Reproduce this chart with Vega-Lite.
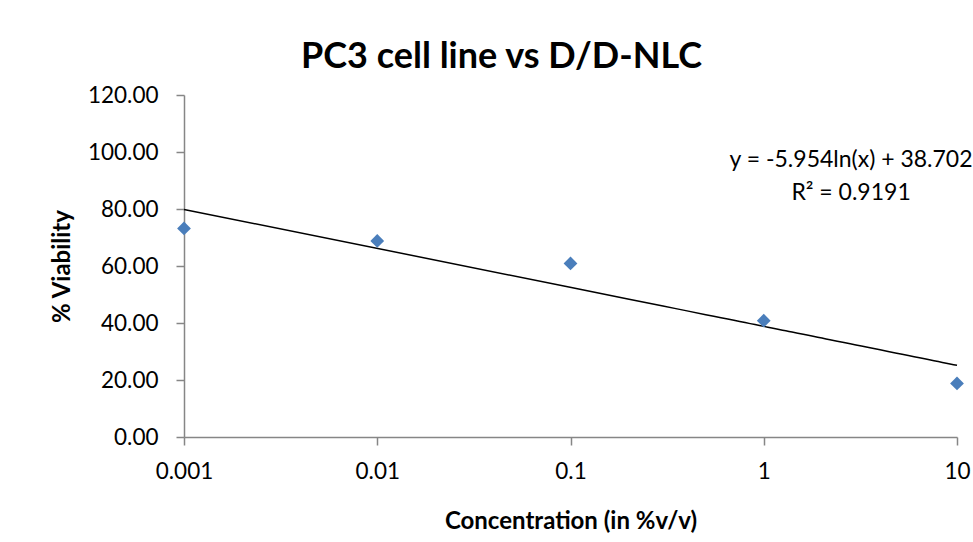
{
  "$schema": "https://vega.github.io/schema/vega-lite/v6.json",
  "width": 773,
  "height": 342,
  "autosize": {"type": "none"},
  "padding": {"left": 184, "top": 95, "right": 16, "bottom": 105},
  "background": "white",
  "title": {
    "text": "PC3 cell line vs D/D-NLC",
    "font": "Lato",
    "fontSize": 36,
    "fontWeight": "bold",
    "color": "black",
    "anchor": "middle",
    "dx": -69,
    "offset": 8
  },
  "config": {
    "view": {"stroke": null},
    "axis": {
      "domainColor": "#868686",
      "tickColor": "#868686",
      "domainWidth": 1.5,
      "tickWidth": 1.5,
      "tickSize": 8,
      "grid": false,
      "labelFont": "Lato",
      "labelFontSize": 22.5,
      "labelColor": "black",
      "titleFont": "Lato",
      "titleFontSize": 24,
      "titleFontWeight": "bold",
      "titleColor": "black"
    }
  },
  "datasets": {
    "points": [
      {"conc": 0.001, "viability": 73.2},
      {"conc": 0.01, "viability": 68.8},
      {"conc": 0.1, "viability": 60.9},
      {"conc": 1, "viability": 40.8},
      {"conc": 10, "viability": 18.8}
    ],
    "labels": [
      {"conc": 2.83, "viability": 97.2, "label": "y = -5.954ln(x) + 38.702"},
      {"conc": 2.83, "viability": 85.6, "label": "R² = 0.9191"}
    ]
  },
  "layer": [
    {
      "data": {"name": "points"},
      "transform": [
        {"regression": "viability", "on": "conc", "method": "log", "extent": [0.001, 10]}
      ],
      "mark": {"type": "line", "color": "black", "strokeWidth": 1.5, "clip": false},
      "encoding": {
        "x": {"field": "conc", "type": "quantitative"},
        "y": {"field": "viability", "type": "quantitative"}
      }
    },
    {
      "data": {"name": "points"},
      "mark": {"type": "point", "shape": "diamond", "filled": true, "size": 190, "color": "#4A7EBB", "opacity": 1, "clip": false},
      "encoding": {
        "x": {
          "field": "conc",
          "type": "quantitative",
          "scale": {"type": "log", "domain": [0.001, 10], "nice": false},
          "axis": {
            "values": [0.001, 0.01, 0.1, 1, 10],
            "labelExpr": "datum.value >= 1 ? format(datum.value, 'd') : format(datum.value, '~g')",
            "labelPadding": 15,
            "labelFlush": false,
            "labelOverlap": false,
            "title": "Concentration (in %v/v)",
            "titlePadding": 27
          }
        },
        "y": {
          "field": "viability",
          "type": "quantitative",
          "scale": {"domain": [0, 120], "nice": false, "zero": true},
          "axis": {
            "values": [0, 20, 40, 60, 80, 100, 120],
            "format": ".2f",
            "labelPadding": 18,
            "title": "% Viability",
            "titlePadding": 13
          }
        }
      }
    },
    {
      "data": {"name": "labels"},
      "mark": {"type": "text", "font": "Lato", "fontSize": 23, "color": "black", "align": "center", "baseline": "middle", "clip": false},
      "encoding": {
        "x": {"field": "conc", "type": "quantitative"},
        "y": {"field": "viability", "type": "quantitative"},
        "text": {"field": "label"}
      }
    }
  ]
}
